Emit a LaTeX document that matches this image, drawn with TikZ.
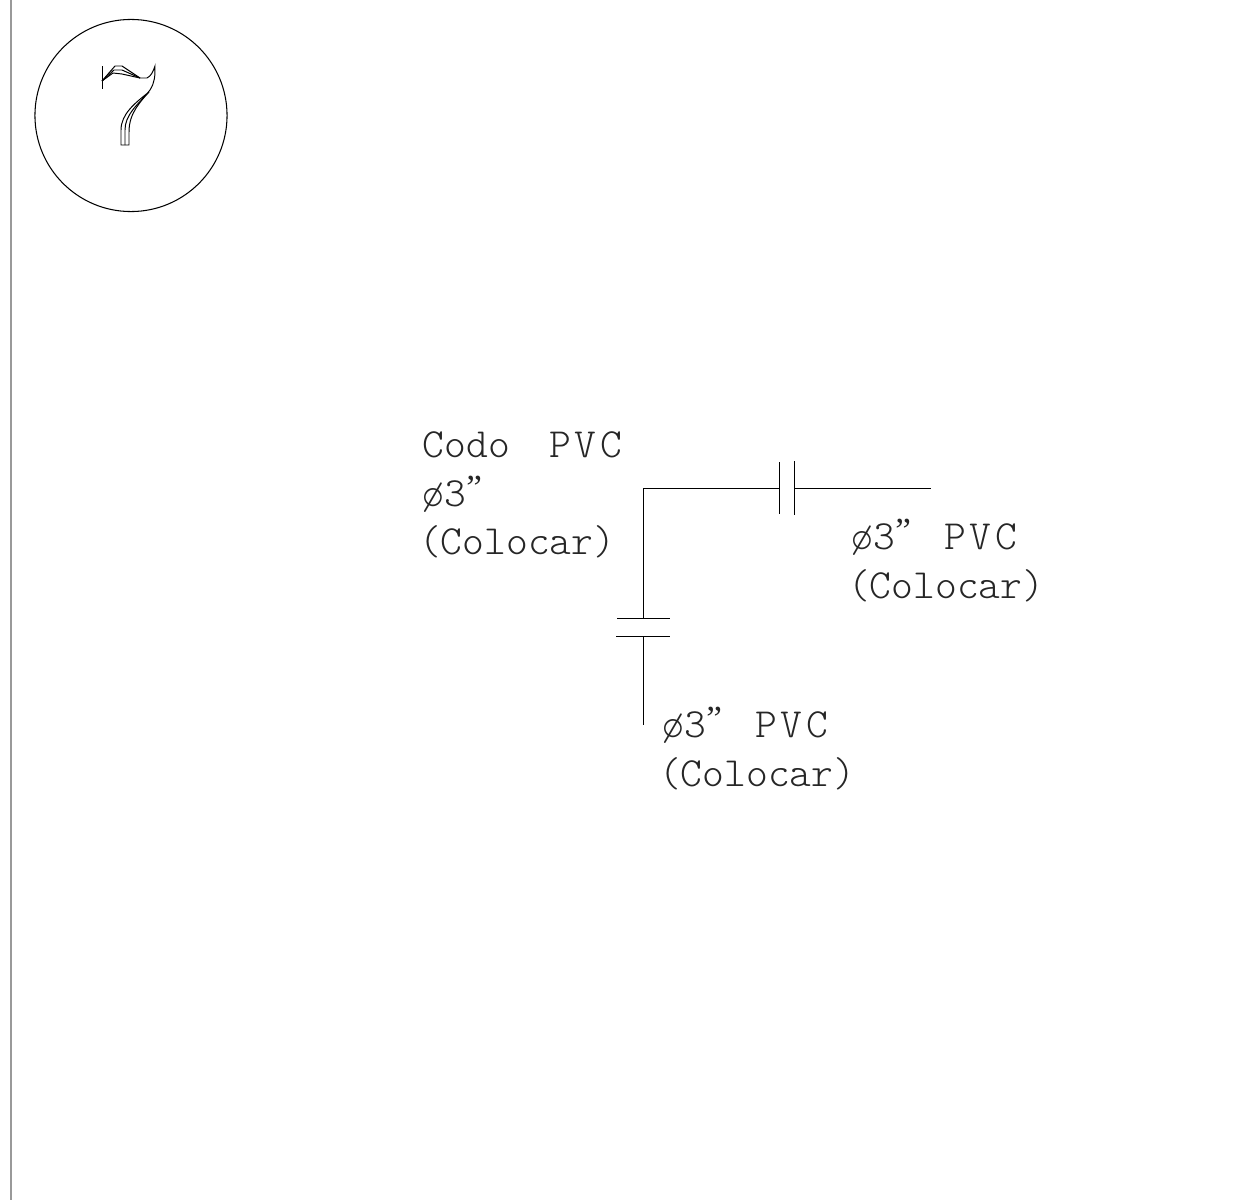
\documentclass[tikz,border=0pt]{standalone}
\usepackage{fontspec}
\setmonofont{Latin Modern Mono Light}
\newfontfamily\quotefont{Liberation Serif}
\usepackage{xcolor}
\usepackage{tikz}
\usetikzlibrary{positioning, calc}
\newcommand{\dia}{ø3\smash{\raisebox{2pt}{\quotefont\fontsize{10}{10}\selectfont ”}}\hspace{0.7pt}}
\newcommand{\pvc}{{\addfontfeature{LetterSpace=9}PVC}}
\tikzset{
  pipe/.style={line width=0.28pt},
  rim/.style={line width=0.3pt},
  label/.style={font=\ttfamily\fontsize{11.8}{13.8}\selectfont, align=left, anchor=north west, inner sep=0pt, text=black!85},
}

\begin{document}
\begin{tikzpicture}[x=0.01cm, y=-0.01cm]
    % PVC elbow detail
    \useasboundingbox (0,0) rectangle (1244,1200);
    \draw[line width=0.6pt, black!40] (11,0) -- (11,1200);
    \node[circle, draw, rim, minimum size=1.92cm, inner sep=0pt] (mark) at (131,115.5) {};
    \draw[pipe] (102,66) -- (102,89);
    \draw[pipe] (102,81) -- (115,66) -- (122,66) -- (140,78) -- (147,78) .. controls (151,76) and (153,72) .. (155,66)
      .. controls (155,76) and (155,82) .. (150,90) .. controls (141,102) and (129,112) .. (129,132) -- (129,145) -- (121,145) -- (121,130)
      .. controls (121,114) and (135,103) .. (149,92);
    \draw[pipe] (102,81) -- (114,70) -- (122,70) -- (140,78);
    \draw[pipe] (102,81) -- (113,73) -- (122,74) -- (140,78);
    \draw[pipe] (125,145) -- (125,130) .. controls (125,115) and (137,105) .. (149,92);
    \node[label] (elbow) at (422,431) {Codo~\hspace{5pt}\pvc\\\dia\\\hspace*{-1pt}(Colocar)};
    \node[label] (right) at (851,523) {\dia~\hspace{2.6pt}\pvc\\\hspace*{-1pt}(Colocar)};
    \node[label] (down) at (662,711) {\dia~\hspace{2.6pt}\pvc\\\hspace*{-1pt}(Colocar)};
    \coordinate (bend) at (643,488);
    \coordinate (jointa) at (779,488);
    \coordinate (jointb) at (794,488);
    \coordinate (endright) at (931,488);
    \coordinate (jointc) at (643,618);
    \coordinate (jointd) at (643,636);
    \coordinate (enddown) at (643,725);
    \draw[pipe] (jointa) -- (bend) -- (jointc);
    \draw[pipe] (jointb) -- (endright);
    \draw[pipe] (jointd) -- (enddown);
    \draw[pipe] ($(jointa)+(0,-26)$) -- ($(jointa)+(0,26)$);
    \draw[pipe] ($(jointb)+(0,-27)$) -- ($(jointb)+(0,27)$);
    \draw[pipe] ($(jointc)+(-26,0)$) -- ($(jointc)+(27,0)$);
    \draw[pipe] ($(jointd)+(-27,0)$) -- ($(jointd)+(27,0)$);
  \end{tikzpicture}
\end{document}
